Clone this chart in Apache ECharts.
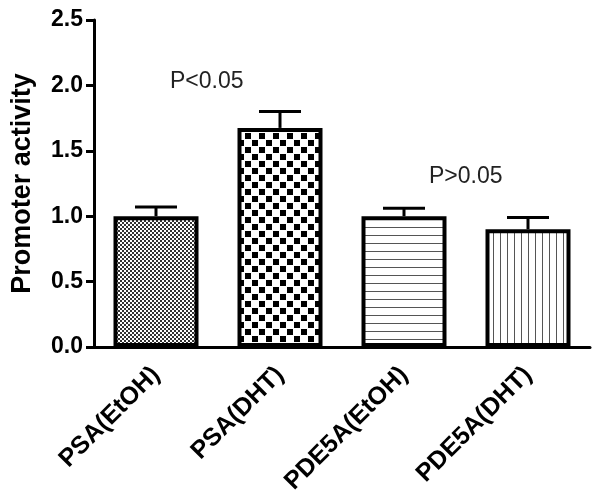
<!DOCTYPE html>
<html>
<head>
<meta charset="utf-8">
<script src="https://cdn.jsdelivr.net/npm/echarts@6/dist/echarts.min.js"></script>
<style>
  html, body { margin: 0; padding: 0; background: #fff; }
  #chart { width: 602px; height: 501px; }
</style>
</head>
<body>
<div id="chart"></div>
<script>
// data
const categories = ['PSA(EtOH)', 'PSA(DHT)', 'PDE5A(EtOH)', 'PDE5A(DHT)']
const means = [1.0, 1.675, 1.0, 0.9]
const errors = [0.07, 0.125, 0.06, 0.09]
const yTicks = [0, 0.5, 1.0, 1.5, 2.0, 2.5]

// little canvas tiles for the hatch fills
function tile(w, h, draw) {
  const c = document.createElement('canvas')
  c.width = w
  c.height = h
  const ctx = c.getContext('2d')
  ctx.fillStyle = '#fff'
  ctx.fillRect(0, 0, w, h)
  draw(ctx)
  return c
}

const fineChecker = tile(4, 4, ctx => {
  ctx.fillStyle = '#333'
  ctx.fillRect(0, 0, 2, 2)
  ctx.fillRect(2, 2, 2, 2)
})
const bigChecker = tile(14, 14, ctx => {
  ctx.fillStyle = '#000'
  ctx.fillRect(0, 0, 6, 6)
  ctx.fillRect(7, 7, 6, 6)
})
const hLines = tile(8, 8, ctx => {
  ctx.fillStyle = '#555'
  ctx.fillRect(0, 3, 8, 1)
})
const vLines = tile(7, 7, ctx => {
  ctx.fillStyle = '#555'
  ctx.fillRect(3, 0, 1, 7)
})
const fills = [fineChecker, bigChecker, hLines, vLines]

const chart = echarts.init(document.getElementById('chart'))

const font = '"Liberation Sans", Arial, sans-serif'

const option = {
  animation: false,
  grid: {
    left: 94,
    right: 12,
    top: 20,
    bottom: 154
  },
  xAxis: {
    type: 'category',
    data: categories,
    axisLine: {
      lineStyle: { color: '#000', width: 3 }
    },
    axisTick: {
      alignWithLabel: true,
      length: 8,
      lineStyle: { color: '#000', width: 3 }
    },
    axisLabel: {
      rotate: 45,
      margin: 24,
      color: '#000',
      fontFamily: font,
      fontWeight: 'bold',
      fontSize: 25
    }
  },
  yAxis: {
    type: 'value',
    min: 0,
    max: 2.5,
    interval: 0.5,
    name: 'Promoter activity',
    nameLocation: 'middle',
    nameGap: 58,
    nameTextStyle: {
      color: '#000',
      fontFamily: font,
      fontWeight: 'bold',
      fontSize: 27
    },
    axisLine: {
      show: true,
      lineStyle: { color: '#000', width: 3 }
    },
    axisTick: {
      show: true,
      length: 8,
      lineStyle: { color: '#000', width: 3 }
    },
    axisLabel: {
      margin: 11,
      color: '#000',
      fontFamily: font,
      fontWeight: 'bold',
      fontSize: 23,
      formatter: v => yTicks.includes(v) ? v.toFixed(1) : ''
    },
    splitLine: { show: false }
  },
  series: [
    {
      type: 'bar',
      barWidth: 85,
      data: means.map((v, i) => ({
        value: v,
        itemStyle: {
          color: { image: fills[i], repeat: 'repeat' },
          borderColor: '#000',
          borderWidth: 4
        }
      })),
      z: 2
    },
    {
      // upper error bars only
      type: 'custom',
      data: means.map((v, i) => [i, v, v + errors[i]]),
      z: 1,
      renderItem(params, api) {
        const base = api.coord([api.value(0), api.value(1)])
        const top = api.coord([api.value(0), api.value(2)])
        const half = 21
        const style = { stroke: '#000', lineWidth: 3 }
        return {
          type: 'group',
          children: [
            { type: 'line', shape: { x1: base[0], y1: base[1], x2: top[0], y2: top[1] }, style },
            { type: 'line', shape: { x1: top[0] - half, y1: top[1], x2: top[0] + half, y2: top[1] }, style }
          ]
        }
      }
    }
  ],
  graphic: [
    {
      type: 'text',
      left: 170,
      top: 70,
      style: { text: 'P<0.05', fill: '#222', font: '23px ' + font }
    },
    {
      type: 'text',
      left: 429,
      top: 165,
      style: { text: 'P>0.05', fill: '#222', font: '23px ' + font }
    }
  ]
}

chart.setOption(option)
</script>
</body>
</html>
